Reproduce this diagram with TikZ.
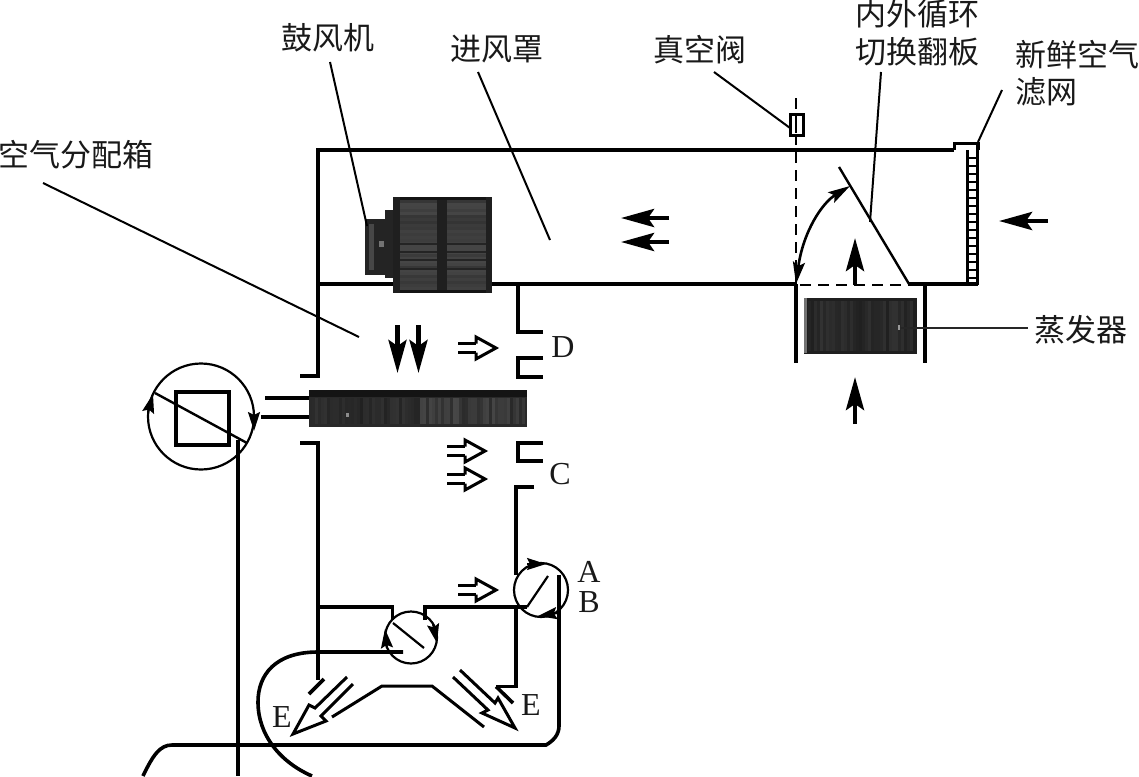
\documentclass[tikz,border=0pt]{standalone}
\usepackage{fontspec}
\setmainfont{Liberation Serif}
\newfontfamily\cjk{Noto Sans CJK SC}
\usetikzlibrary{arrows.meta}
\tikzset{
  wall/.style={line width=3.6pt,line cap=butt,line join=miter},
  leader/.style={line width=2pt},
  dashline/.style={line width=2.2pt,dash pattern=on 11pt off 7pt},
  bigarrow/.style={line width=4.4pt,-{Stealth[length=33pt,width=18pt,inset=6pt]}},
  tinyhead/.style={line width=2pt,-{Stealth[length=19pt,width=12pt,inset=3pt]}},
  bothhead/.style={line width=2.6pt,{Stealth[length=22pt,width=12pt,inset=4pt]}-{Stealth[length=22pt,width=12pt,inset=4pt]}},
  zh/.style={font=\cjk\fontsize{31}{31}\selectfont,inner sep=0pt,text=black!90},
  en/.style={font=\fontsize{32}{32}\selectfont,inner sep=0pt,text=black!90},
  hollow/.pic={
    \draw[line width=3pt] (0,-4.5)--(18,-4.5) (0,4.5)--(18,4.5);
    \draw[line width=3pt,line join=miter] (18,-4.5)--(18,-11)--(38,0)--(18,11)--(18,4.5);
  }
}
\begin{document}
\begin{tikzpicture}[x=1pt,y=-1pt]
\useasboundingbox (0,0) rectangle (1139,776);
\fill[white] (0,0) rectangle (1139,776);

% labels
\node[zh] (blower) at (328,38) {鼓风机};
\node[zh] (hood) at (497,49) {进风罩};
\node[zh] (valve) at (700,50) {真空阀};
\node[zh] (flapa) at (917,14) {内外循环};
\node[zh] (flapb) at (917,52) {切换翻板};
\node[zh] (filta) at (1077,55) {新鲜空气};
\node[zh,anchor=west] (filtb) at (1015,92) {滤网};
\node[zh] (box) at (76,155) {空气分配箱};
\node[zh] (evap) at (1081,330) {蒸发器};
\node[en] (D) at (563,347) {D};
\node[en] (C) at (560,474) {C};
\node[en] (A) at (589,572) {A};
\node[en] (B) at (589,602) {B};
\node[en] (E1) at (282,717) {E};
\node[en] (E2) at (531,705) {E};

% blower
\fill[black!76] (393,197) rectangle (492,293);
\pgfmathsetseed{7}
\foreach \y in {200,203,...,290}{\pgfmathsetmacro{\p}{72+8*rnd}\fill[black!\p] (398,\y) rectangle (488,\y+3);}
\foreach \y in {243,251,259,268}{\fill[black!86] (398,\y) rectangle (488,\y+2);}
\fill[black!88] (437,197) rectangle (447,293);
\fill[black!92] (393,197) rectangle (492,200);
\fill[black!92] (394,290) rectangle (492,293);
\fill[black!88] (393,197) rectangle (400,293);
\fill[black!88] (486,197) rectangle (492,293);
\fill[black!86] (385,210) rectangle (393,278);
\fill[black!86] (365,219) rectangle (387,275);
\fill[black!72] (369,224) rectangle (374,270);
\fill[black!55] (379,241) rectangle (384,247);

% duct
\draw[wall] (300,376)--(318,376)--(318,150)--(954,150);
\draw[wall] (318,284)--(393,284);
\draw[wall] (492,284)--(796,284);
\draw[wall] (909,284)--(978,284);
\draw[wall] (796,284)--(796,363);
\draw[wall] (925,284)--(925,363);
\draw[dashline] (796,98)--(796,284);
\draw[dashline] (800,285)--(909,285);

% filter
\draw[wall,line width=3pt] (954,150)--(954,143)--(978,143)--(978,150);
\draw[line width=3pt] (967,150)--(967,285) (977.5,143)--(977.5,285);
\foreach \y in {158,166,...,278}{\draw[line width=1.7pt] (967,\y)--(978,\y);}

% valve
\node[draw,line width=3pt,minimum width=13pt,minimum height=21pt,inner sep=0pt,fill=white] (vacuum) at (796.5,124.5) {};
\draw[line width=1.2pt] (796,116)--(796,133);

% flap
\coordinate (f1) at (839,167);
\coordinate (f2) at (909,284);
\draw[line width=2.4pt] (f1)--(f2);
\draw[bothhead] (850,186) .. controls (822,203) and (803,232) .. (796,284);

% evaporator
\fill[black!88] (804,298) rectangle (917,354);
\pgfmathsetseed{11}
\foreach \x in {808,811,...,912}{\pgfmathsetmacro{\p}{80+8*rnd}\fill[black!\p] (\x,301) rectangle (\x+3,351);}
\fill[black!55] (804,298) rectangle (807,353);
\fill[black!40] (898,325) rectangle (900,330);

% heater
\fill[black!84] (309,390) rectangle (527,427);
\pgfmathsetseed{5}
\foreach \x in {312,315,...,524}{\pgfmathsetmacro{\p}{\x<420?80+7*rnd:72+12*rnd}\fill[black!\p] (\x,398) rectangle (\x+3,424);}
\fill[black!92] (309,390) rectangle (527,397);
\fill[black!45] (346,413) rectangle (349,417);
\draw[wall] (265,398)--(309,398);
\draw[wall] (261,417)--(309,417);

% right side wall
\draw[wall] (543,332)--(518,332)--(518,284);
\draw[wall] (543,358)--(518,358)--(518,377)--(543,377);
\draw[wall] (543,443)--(518,443)--(518,461)--(543,461);
\draw[wall] (534,487)--(516,487)--(516,575);
\draw[wall] (300,443)--(318,443)--(318,680);

% left damper
\draw[line width=2.2pt] (201,416.5) circle (53);
\draw[wall] (176,392) rectangle (229,445);
\coordinate (d1) at (155,393);
\coordinate (d2) at (247,443);
\draw[line width=2.4pt] (d1)--(d2);
\draw[tinyhead] (148,413)--(153,394);
\draw[tinyhead] (254,411)--(254,431);
\draw[wall] (238,440)--(238,776);

% AB damper
\draw[line width=2.2pt] (541,590) circle (27);
\draw[line width=2.2pt] (527,607)--(548,576);
\draw[tinyhead] (527,564)--(546,564);
\draw[tinyhead] (558,613)--(538,616);
\draw[wall] (559,575)--(559,726) .. controls (559,735) and (553,741) .. (546,745)--(172,745)
  .. controls (160,745) and (153,755) .. (143,776);

% lower damper
\draw[wall] (318,607)--(392.5,607)--(392.5,620);
\draw[wall] (425,620)--(425,607)--(527,607);
\draw[line width=2.2pt] (411,637.5) circle (26);
\draw[line width=2.2pt] (393,623)--(424,648);
\draw[tinyhead] (387,648)--(385,629);
\draw[tinyhead] (433,624)--(437,643);
\draw[wall] (403,652)--(318,652) .. controls (275,652) and (258,675) .. (258,702)
  .. controls (258,735) and (280,762) .. (312,776);
\draw[wall] (516,607)--(516,686.5)--(496,686.5);
\draw[wall] (496,686.5)--(513,703);
\draw[wall] (324,679)--(309,694);

% outlet arrows
\draw[line width=3pt,line join=miter] (347,677)--(315,708)--(309,705)--(293,734)--(326,721)--(321,716)--(353,684);
\draw[line width=3pt,line join=miter] (332,717)--(382,686)--(432,686)--(484,727);
\draw[line width=3pt,line join=miter] (460,670)--(495,703)--(498,698)--(515,728)--(482,713)--(488,710)--(453,677);

% solid arrows
\draw[bigarrow] (397.5,325)--(397.5,373);
\draw[bigarrow] (418.5,325)--(418.5,373);
\draw[bigarrow] (669,218)--(621,218);
\draw[bigarrow] (669,242)--(621,242);
\draw[bigarrow] (855,285)--(855,238);
\draw[bigarrow] (855,424)--(855,377);
\draw[bigarrow] (1048,221)--(999,221);

% hollow arrows
\pic at (458,348) {hollow};
\pic at (447,451) {hollow};
\pic at (447,479) {hollow};
\pic at (458,590) {hollow};

% leaders
\coordinate (lb) at (367,226);
\coordinate (lb0) at (330,62);
\coordinate (lh0) at (478,72);
\coordinate (lh) at (550,240);
\coordinate (lv0) at (714,72);
\coordinate (lv) at (790,128);
\coordinate (lf0) at (881,72);
\coordinate (lf) at (870,222);
\coordinate (ln0) at (1002,90);
\coordinate (ln) at (978,142);
\coordinate (la0) at (43,183);
\coordinate (la) at (359,337);
\coordinate (le0) at (900,328);
\coordinate (le) at (1028,328);
\draw[leader] (lb0)--(lb);
\draw[leader] (lh0)--(lh);
\draw[leader] (lv0)--(lv);
\draw[leader] (lf0)--(lf);
\draw[leader] (ln0)--(ln);
\draw[leader] (la0)--(la);
\draw[leader,black!85] (le0)--(le);
\end{tikzpicture}
\end{document}
